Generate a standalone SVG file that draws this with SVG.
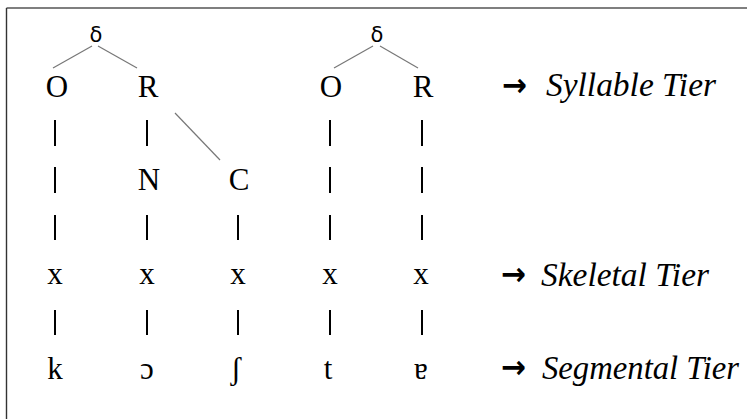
<svg xmlns="http://www.w3.org/2000/svg" width="747" height="419" viewBox="0 0 747 419">
<style>
.l{font-family:'Liberation Serif','Tinos','DejaVu Serif',serif;font-size:31px;fill:#000;text-anchor:middle}
.d{font-family:'DejaVu Sans',sans-serif;font-size:21px;fill:#000;text-anchor:middle}
.t{font-family:'Liberation Serif','Tinos','DejaVu Serif',serif;font-size:34px;font-style:italic;fill:#000}
.a{font-family:'DejaVu Sans',sans-serif;font-size:32px;font-weight:bold;fill:#000}
.b{stroke:#000;stroke-width:2}
.e{stroke:#777;stroke-width:1.2}
</style>
<rect width="747" height="419" fill="#fff"/>
<g id="frame">
<line x1="6.5" y1="8" x2="747" y2="8" stroke="#555" stroke-width="1.6"/>
<line x1="6.5" y1="8" x2="6.5" y2="419" stroke="#333" stroke-width="1.4"/>
</g>
<g id="connectors">
<line class="e" x1="53" y1="68" x2="92" y2="46"/>
<line class="e" x1="98" y1="46" x2="137" y2="68"/>
<line class="e" x1="334" y1="68" x2="373" y2="46"/>
<line class="e" x1="380" y1="46" x2="418" y2="68"/>
<line class="e" x1="175" y1="113" x2="220" y2="160"/>
<line class="b" x1="55" y1="120" x2="55" y2="146"/>
<line class="b" x1="147" y1="120" x2="147" y2="146"/>
<line class="b" x1="330" y1="120" x2="330" y2="146"/>
<line class="b" x1="422" y1="120" x2="422" y2="146"/>
<line class="b" x1="55" y1="167" x2="55" y2="193"/>
<line class="b" x1="330" y1="167" x2="330" y2="193"/>
<line class="b" x1="422" y1="167" x2="422" y2="193"/>
<line class="b" x1="55" y1="215" x2="55" y2="240"/>
<line class="b" x1="147" y1="215" x2="147" y2="240"/>
<line class="b" x1="238" y1="215" x2="238" y2="240"/>
<line class="b" x1="330" y1="215" x2="330" y2="240"/>
<line class="b" x1="422" y1="215" x2="422" y2="240"/>
<line class="b" x1="55" y1="310" x2="55" y2="335"/>
<line class="b" x1="147" y1="310" x2="147" y2="335"/>
<line class="b" x1="238" y1="310" x2="238" y2="335"/>
<line class="b" x1="330" y1="310" x2="330" y2="335"/>
<line class="b" x1="422" y1="310" x2="422" y2="335"/>
</g>
<g id="syl1"><text class="d" x="96" y="42">δ</text></g>
<g id="syl2"><text class="d" x="377" y="42">δ</text></g>
<g id="O1"><text class="l" x="57" y="97">O</text></g>
<g id="R1"><text class="l" x="148" y="97">R</text></g>
<g id="O2"><text class="l" x="331" y="97">O</text></g>
<g id="R2"><text class="l" x="423" y="97">R</text></g>
<g id="N"><text class="l" x="149" y="190">N</text></g>
<g id="C"><text class="l" x="239" y="190">C</text></g>
<g id="x1"><text class="l" x="55" y="284">x</text></g>
<g id="x2"><text class="l" x="147" y="284">x</text></g>
<g id="x3"><text class="l" x="238" y="284">x</text></g>
<g id="x4"><text class="l" x="330" y="284">x</text></g>
<g id="x5"><text class="l" x="421" y="284">x</text></g>
<g id="s1"><text class="l" x="55" y="379">k</text></g>
<g id="s2"><text class="l" x="147" y="379">ɔ</text></g>
<g id="s3"><text class="l" x="236" y="379">ʃ</text></g>
<g id="s4"><text class="l" x="328" y="379">t</text></g>
<g id="s5"><text class="l" x="421" y="379">ɐ</text></g>
<g id="label-syllable"><text class="a" x="502" y="96" textLength="25" lengthAdjust="spacingAndGlyphs">→</text><text class="t" x="546" y="96" textLength="170" lengthAdjust="spacingAndGlyphs">Syllable Tier</text></g>
<g id="label-skeletal"><text class="a" x="501" y="285" textLength="25" lengthAdjust="spacingAndGlyphs">→</text><text class="t" x="541" y="286" textLength="168" lengthAdjust="spacingAndGlyphs">Skeletal Tier</text></g>
<g id="label-segmental"><text class="a" x="501" y="378" textLength="25" lengthAdjust="spacingAndGlyphs">→</text><text class="t" x="542" y="379" textLength="197" lengthAdjust="spacingAndGlyphs">Segmental Tier</text></g>
</svg>
